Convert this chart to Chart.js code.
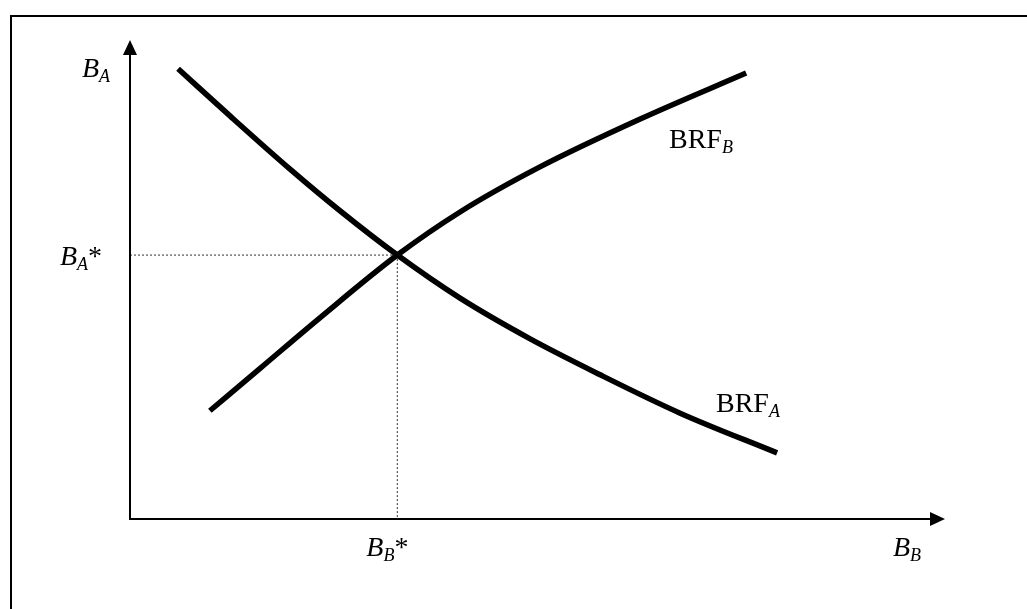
<!DOCTYPE html>
<html>
<head>
<meta charset="utf-8">
<script src="https://cdn.jsdelivr.net/npm/chart.js@4/dist/chart.umd.min.js"></script>
<style>
  html, body { margin: 0; padding: 0; background: #fff; overflow: hidden; }
  #wrap { position: absolute; left: 0; top: 0; width: 1027px; height: 609px; }
  #frame { position: absolute; left: 10px; top: 15px; width: 1027px; height: 600px;
           border-top: 2px solid #000; border-left: 2px solid #000; box-sizing: border-box; pointer-events: none; }
  .probe { font-family: "Liberation Serif"; position: absolute; left: -9999px; }
</style>
</head>
<body>
<span class="probe">B <i>A</i></span>
<div id="wrap"><canvas id="c" width="1027" height="609"></canvas></div>
<div id="frame"></div>
<script>
// Best-response function A (B_A as a function of B_B)
const brfA_x = [5.9, 12.3, 19.6, 25.8, 32.8, 40.5, 49.1, 57.7, 67.5, 79.4];
const brfA_y = [94.0, 84.1, 73.1, 64.3, 55.1, 46.1, 37.6, 30.1, 22.1, 13.8];
// Best-response function B
const brfB_x = [9.8, 16.0, 23.3, 32.8, 40.5, 50.3, 62.6, 75.6];
const brfB_y = [22.6, 31.5, 42.0, 55.1, 64.1, 73.5, 83.5, 93.1];
// Equilibrium
const eqX = 32.8;
const eqY = 55.1;
// Axis ranges
const xMin = 0, xMax = 100, yMin = 0, yMax = 100;

const toPts = (xs, ys) => xs.map((x, i) => ({ x: x, y: ys[i] }));

const serif = '"Liberation Serif", "Times New Roman", Times, serif';

function drawRich(ctx, x, y, parts) {
  let cx = x;
  ctx.textBaseline = 'alphabetic';
  ctx.textAlign = 'left';
  for (const p of parts) {
    const size = p.sub ? 18 : 28;
    ctx.font = (p.italic ? 'italic ' : '') + size + 'px ' + serif;
    const dy = p.sub ? 5 : 0;
    ctx.fillText(p.t, cx, y + dy);
    cx += ctx.measureText(p.t).width;
  }
}

const overlay = {
  id: 'overlay',
  afterDraw(chart) {
    const ctx = chart.ctx;
    const xs = chart.scales.x, ys = chart.scales.y;
    const x0 = xs.getPixelForValue(xMin), x1 = xs.getPixelForValue(xMax);
    const y0 = ys.getPixelForValue(yMin), y1 = ys.getPixelForValue(yMax);
    ctx.save();
    ctx.strokeStyle = '#000';
    ctx.fillStyle = '#000';
    ctx.lineWidth = 2;
    // y axis
    ctx.beginPath();
    ctx.moveTo(x0, y0 + 1);
    ctx.lineTo(x0, y1 + 12);
    ctx.stroke();
    ctx.beginPath();
    ctx.moveTo(x0, y1);
    ctx.lineTo(x0 - 7, y1 + 15);
    ctx.lineTo(x0 + 7, y1 + 15);
    ctx.closePath();
    ctx.fill();
    // x axis
    ctx.beginPath();
    ctx.moveTo(x0 - 1, y0);
    ctx.lineTo(x1 - 12, y0);
    ctx.stroke();
    ctx.beginPath();
    ctx.moveTo(x1, y0);
    ctx.lineTo(x1 - 15, y0 - 7);
    ctx.lineTo(x1 - 15, y0 + 7);
    ctx.closePath();
    ctx.fill();

    // labels
    const ex = xs.getPixelForValue(eqX), ey = ys.getPixelForValue(eqY);
    drawRich(ctx, 82, 77, [{ t: 'B', italic: true }, { t: 'A', italic: true, sub: true }]);
    drawRich(ctx, 60, ey + 10, [{ t: 'B', italic: true }, { t: 'A', italic: true, sub: true }, { t: '*' }]);
    drawRich(ctx, ex - 31, 556, [{ t: 'B', italic: true }, { t: 'B', italic: true, sub: true }, { t: '*' }]);
    drawRich(ctx, 893, 556, [{ t: 'B', italic: true }, { t: 'B', italic: true, sub: true }]);
    drawRich(ctx, 669, 148, [{ t: 'BRF' }, { t: 'B', italic: true, sub: true }]);
    drawRich(ctx, 716, 412, [{ t: 'BRF' }, { t: 'A', italic: true, sub: true }]);
    ctx.restore();
  }
};

function build() {
  new Chart(document.getElementById('c'), {
    type: 'scatter',
    data: {
      datasets: [
        { data: [{ x: xMin, y: eqY }, { x: eqX, y: eqY }], showLine: true, borderColor: '#333',
          borderWidth: 1, borderDash: [2, 2], pointRadius: 0, tension: 0, clip: false, order: 3 },
        { data: [{ x: eqX, y: eqY }, { x: eqX, y: yMin }], showLine: true, borderColor: '#333',
          borderWidth: 1, borderDash: [2, 2], pointRadius: 0, tension: 0, clip: false, order: 3 },
        { label: 'BRF_A', data: toPts(brfA_x, brfA_y), showLine: true, borderColor: '#000',
          borderWidth: 5.5, pointRadius: 0, tension: 0.4, cubicInterpolationMode: 'monotone', clip: false, order: 1 },
        { label: 'BRF_B', data: toPts(brfB_x, brfB_y), showLine: true, borderColor: '#000',
          borderWidth: 5.5, pointRadius: 0, tension: 0.4, cubicInterpolationMode: 'monotone', clip: false, order: 1 }
      ]
    },
    options: {
      responsive: false,
      animation: false,
      events: [],
      layout: { padding: { left: 130, top: 40, right: 82, bottom: 90 } },
      plugins: { legend: { display: false }, tooltip: { enabled: false }, title: { display: false } },
      scales: {
        x: { type: 'linear', min: xMin, max: xMax, display: false },
        y: { type: 'linear', min: yMin, max: yMax, display: false }
      }
    },
    plugins: [overlay]
  });
}

Promise.all([
  document.fonts.load('28px "Liberation Serif"'),
  document.fonts.load('italic 28px "Liberation Serif"')
]).then(build, build);
</script>
</body>
</html>
